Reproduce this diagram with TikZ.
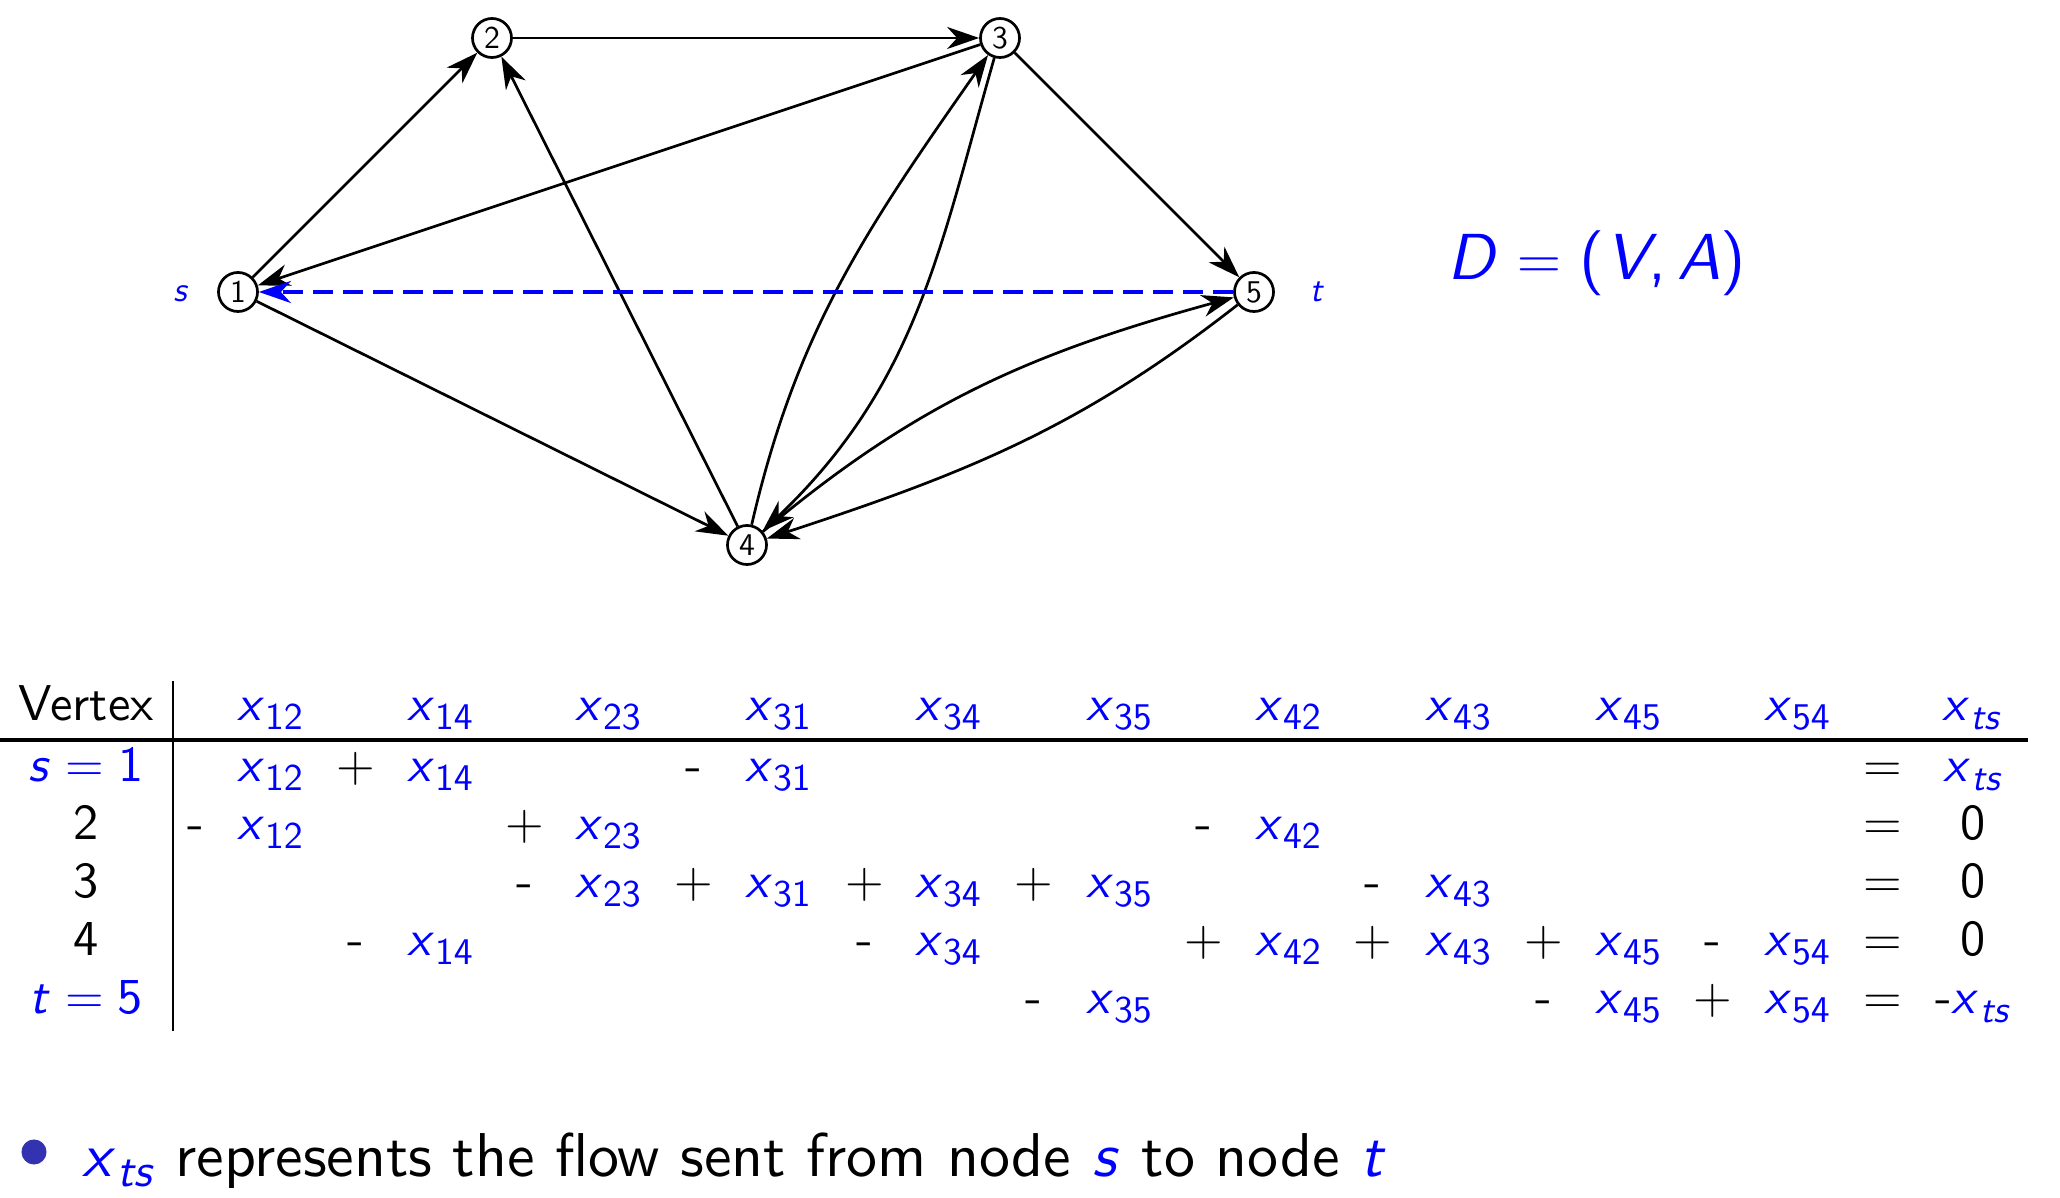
\documentclass[tikz,border=0pt]{standalone}
\usetikzlibrary{arrows.meta,bending}
\definecolor{itemblue}{rgb}{0.2,0.2,0.7}
\DeclareFontFamily{OT1}{mycmss}{\hyphenchar\font=-1}
\DeclareFontShape{OT1}{mycmss}{m}{n}{<-> cmss10}{}
\DeclareFontShape{OT1}{mycmss}{m}{it}{<-> cmssi10}{}
\DeclareFontShape{OT1}{mycmss}{m}{sl}{<-> cmssi10}{}
\newcommand{\cms}{\fontencoding{OT1}\fontfamily{mycmss}\selectfont}
\newcommand{\vx}[1]{\textit{x}\raisebox{-0.17em}{\fontsize{0.75em}{1em}\selectfont #1}}
\begin{document}
\begin{tikzpicture}[x=0.01cm,y=0.01cm,
  vtx/.style={circle,draw,line width=0.027cm,minimum size=0.39cm,inner sep=0pt,font=\cms\fontsize{9}{10}\selectfont},
  arc/.style={line width=0.027cm,-{Stealth[length=0.32cm,width=0.22cm,inset=0.1cm]}},
  flowarc/.style={blue,line width=0.033cm,dash pattern=on 0.2cm off 0.1cm,-{Stealth[length=0.32cm,width=0.22cm,inset=0.1cm]}},
  lab/.style={anchor=base,inner sep=0pt,text=blue,font=\cms\itshape\fontsize{9.8}{11}\selectfont},
  cell/.style={anchor=base,inner sep=0pt,font=\cms\fontsize{14.3}{17}\selectfont},
  bl/.style={cell,text=blue},
  op/.style={cell}]
\useasboundingbox (0,0) rectangle (2060,-1198);

% graph
\node[vtx] (n1) at (238,-292) {1};
\node[vtx] (n2) at (492,-38) {2};
\node[vtx] (n3) at (1000,-38) {3};
\node[vtx] (n4) at (747,-545) {4};
\node[vtx] (n5) at (1254,-292) {5};
\node[lab] (ls) at (180,-302) {s};
\node[lab] (lt) at (1316,-302) {t};

\draw[arc] (n1) -- (n2);
\draw[arc] (n2) -- (n3);
\draw[arc] (n3) -- (n1);
\draw[arc] (n1) -- (n4);
\draw[arc] (n4) -- (n2);
\draw[arc] (n3) -- (n5);
\draw[arc] (n4) to[out=77,in=235] (n3);
\draw[arc] (n3) to[out=254,in=42] (n4);
\draw[arc] (n4) to[out=40,in=195] (n5);
\draw[arc] (n5) to[out=218,in=18] (n4);
\draw[flowarc] (n5) -- (n1);

\node[anchor=base west,inner sep=0pt,text=blue,font=\cms\fontsize{18.5}{21}\selectfont] (dva) at (1447,-280)
  {\textit{D}\hspace{0.28em}$=$\hspace{0.28em}(\textit{V},\hspace{0.17em}\textit{A})};

% table rules
\coordinate (rl) at (0,-740);
\coordinate (rr) at (2028,-740);
\coordinate (vt) at (173,-681);
\coordinate (vb) at (173,-1031);
\draw[line width=0.033cm] (rl) -- (rr);
\draw[line width=0.02cm] (vt) -- (vb);

% header
\node[cell] (hv) at (86,-721) {Vertex};
\foreach \s/\xx [count=\i] in {12/270,14/440,23/608,31/778,34/948,35/1119,42/1288,43/1458,45/1628,54/1797}
  \node[bl] (h\i) at (\xx,-721) {\vx{\s}};
\node[bl] (hts) at (1972,-721) {\vx{\textit{ts}}};

% row labels
\node[bl] (r1) at (86,-782) {\textit{s}\hspace{0.278em}$=$\hspace{0.278em}1};
\node[cell] (r2) at (86,-840) {2};
\node[cell] (r3) at (86,-898) {3};
\node[cell] (r4) at (86,-956) {4};
\node[bl] (r5) at (86,-1014) {\textit{t}\hspace{0.278em}$=$\hspace{0.278em}5};

% row s
\node[bl] (a1) at (270,-782) {\vx{12}};
\node[op] (a2) at (356,-782) {$+$};
\node[bl] (a3) at (440,-782) {\vx{14}};
\node[cell] (a4) at (694,-782) {-};
\node[bl] (a5) at (778,-782) {\vx{31}};
\node[op] (a6) at (1883,-782) {$=$};
\node[bl] (a7) at (1973,-782) {\vx{\textit{ts}}};

% row 2
\node[cell] (b1) at (196,-840) {-};
\node[bl] (b2) at (270,-840) {\vx{12}};
\node[op] (b3) at (525,-840) {$+$};
\node[bl] (b4) at (608,-840) {\vx{23}};
\node[cell] (b5) at (1204,-840) {-};
\node[bl] (b6) at (1288,-840) {\vx{42}};
\node[op] (b7) at (1883,-840) {$=$};
\node[cell] (b8) at (1973,-840) {0};

% row 3
\node[cell] (c1) at (525,-898) {-};
\node[bl] (c2) at (608,-898) {\vx{23}};
\node[op] (c3) at (694,-898) {$+$};
\node[bl] (c4) at (778,-898) {\vx{31}};
\node[op] (c5) at (865,-898) {$+$};
\node[bl] (c6) at (948,-898) {\vx{34}};
\node[op] (c7) at (1034,-898) {$+$};
\node[bl] (c8) at (1119,-898) {\vx{35}};
\node[cell] (c9) at (1373,-898) {-};
\node[bl] (c10) at (1458,-898) {\vx{43}};
\node[op] (c11) at (1883,-898) {$=$};
\node[cell] (c12) at (1973,-898) {0};

% row 4
\node[cell] (d1) at (356,-956) {-};
\node[bl] (d2) at (440,-956) {\vx{14}};
\node[cell] (d3) at (865,-956) {-};
\node[bl] (d4) at (948,-956) {\vx{34}};
\node[op] (d5) at (1204,-956) {$+$};
\node[bl] (d6) at (1288,-956) {\vx{42}};
\node[op] (d7) at (1373,-956) {$+$};
\node[bl] (d8) at (1458,-956) {\vx{43}};
\node[op] (d9) at (1544,-956) {$+$};
\node[bl] (d10) at (1628,-956) {\vx{45}};
\node[cell] (d11) at (1713,-956) {-};
\node[bl] (d12) at (1797,-956) {\vx{54}};
\node[op] (d13) at (1883,-956) {$=$};
\node[cell] (d14) at (1973,-956) {0};

% row t
\node[cell] (e1) at (1034,-1014) {-};
\node[bl] (e2) at (1119,-1014) {\vx{35}};
\node[cell] (e3) at (1544,-1014) {-};
\node[bl] (e4) at (1628,-1014) {\vx{45}};
\node[op] (e5) at (1713,-1014) {$+$};
\node[bl] (e6) at (1797,-1014) {\vx{54}};
\node[op] (e7) at (1883,-1014) {$=$};
\node[cell] (e8) at (1973,-1014) {-\textcolor{blue}{\vx{\textit{ts}}}};

% bullet
\node[circle,fill=itemblue,minimum size=0.25cm,inner sep=0pt] (bul) at (34,-1152) {};
\node[cell,anchor=base west,font=\cms\fontsize{17.6}{20}\selectfont] (btxt) at (82,-1176)
  {\textcolor{blue}{\vx{\textit{ts}}} represents the flow sent from node \textcolor{blue}{\textit{s}} to node \textcolor{blue}{\textit{t}}};
\end{tikzpicture}
\end{document}
